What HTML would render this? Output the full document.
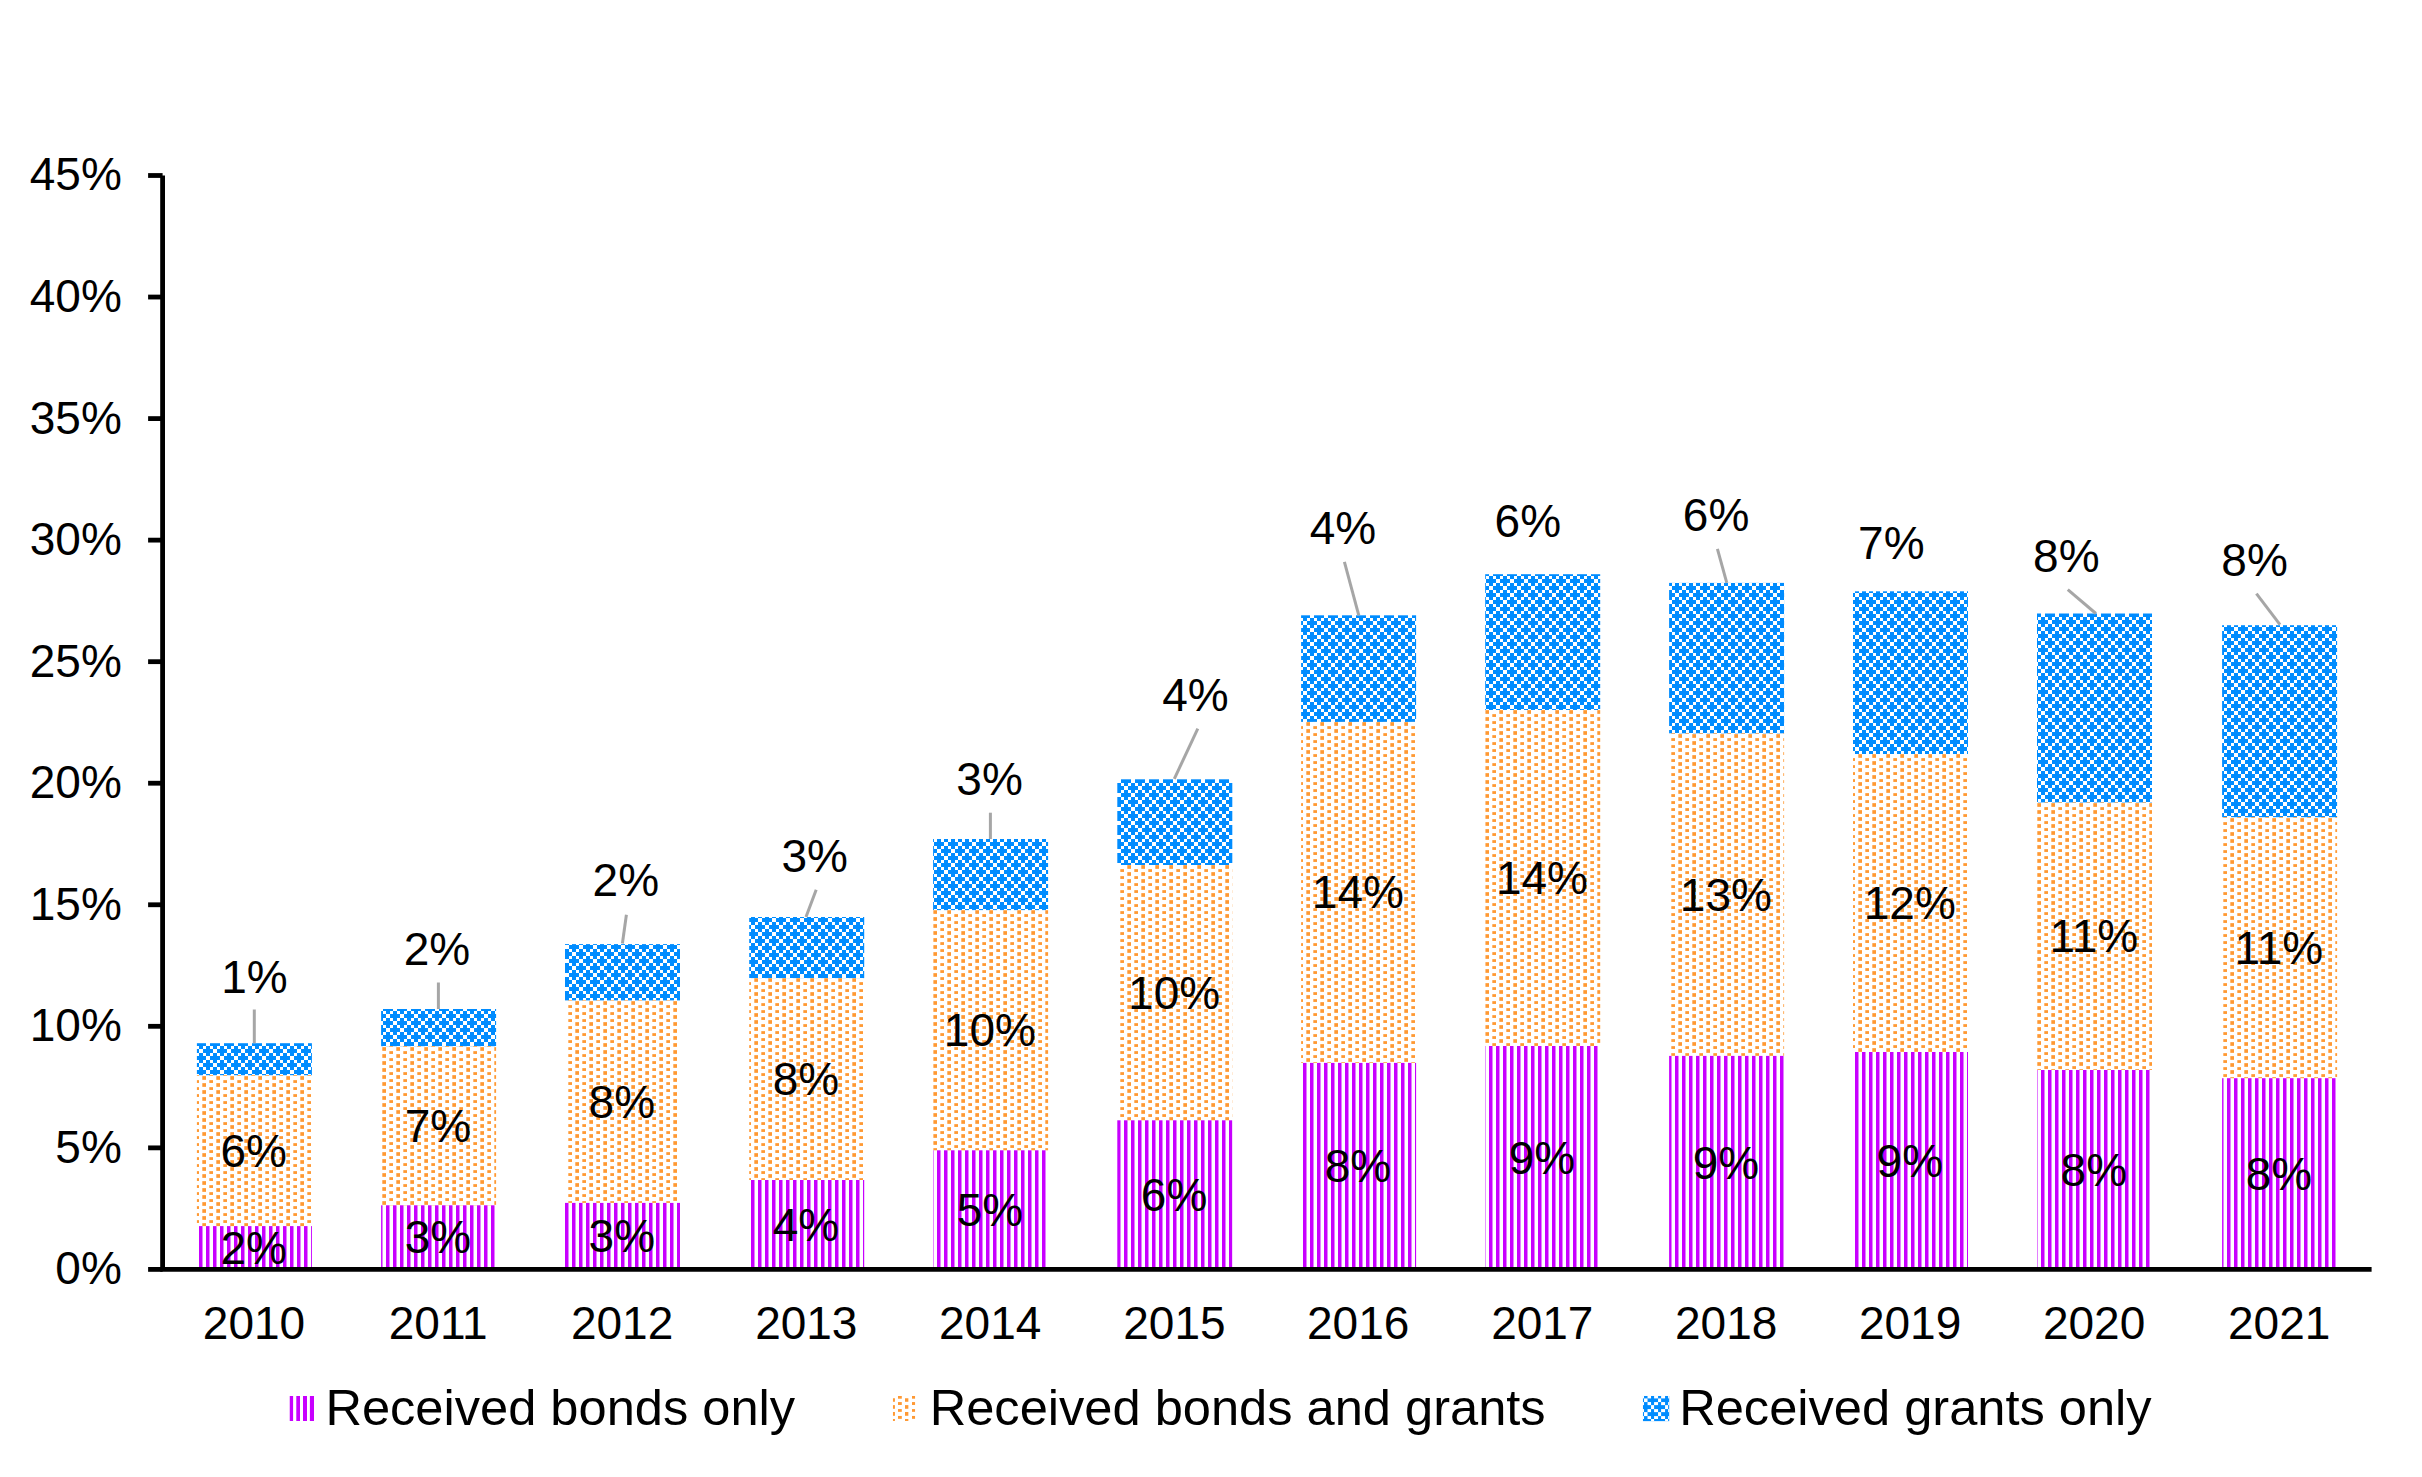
<!DOCTYPE html>
<html lang="en"><head><meta charset="utf-8"><title>Share receiving bonds and grants, 2010-2021</title>
<style>html,body{margin:0;padding:0;background:#fff}body{width:2422px;height:1477px;overflow:hidden}svg{display:block}text{font-family:"Liberation Sans",sans-serif;fill:#000}</style>
</head><body>
<svg width="2422" height="1477" viewBox="0 0 2422 1477">
<defs>
<pattern id="pp" patternUnits="userSpaceOnUse" x="0" y="0" width="14" height="14"><rect x="0" y="0" width="3.5" height="14" fill="#C800FF"/><rect x="7" y="0" width="3.5" height="14" fill="#C800FF"/></pattern>
<pattern id="po" patternUnits="userSpaceOnUse" x="0" y="0" width="14" height="14"><rect x="10.3" y="0.15" width="3.7" height="3.7" fill="#FF9933"/><rect x="10.3" y="7.15" width="3.7" height="3.7" fill="#FF9933"/><rect x="3.3" y="4.15" width="3.7" height="2.8" fill="#FF9933"/><rect x="3.3" y="11.15" width="3.7" height="2.8" fill="#FF9933"/></pattern>
<pattern id="pb" patternUnits="userSpaceOnUse" x="0" y="0" width="14" height="14"><rect x="0" y="0" width="14" height="14" fill="#008CFF"/><rect x="7" y="0" width="4" height="4" fill="#fff"/><rect x="4" y="4" width="3" height="3" fill="#fff"/><rect x="11" y="4" width="3" height="3" fill="#fff"/><rect x="0" y="7" width="4" height="4" fill="#fff"/><rect x="4" y="11" width="3" height="3" fill="#fff"/><rect x="11" y="11" width="3" height="3" fill="#fff"/></pattern>
<pattern id="pp0" href="#pp" x="10" y="0"/>
<pattern id="po0" href="#po" x="10" y="12"/>
<pattern id="pb0" href="#pb" x="10" y="13"/>
<pattern id="pp1" href="#pp" x="8" y="0"/>
<pattern id="po1" href="#po" x="8" y="11"/>
<pattern id="pb1" href="#pb" x="8" y="13"/>
<pattern id="pp2" href="#pp" x="5" y="0"/>
<pattern id="po2" href="#po" x="5" y="7"/>
<pattern id="pb2" href="#pb" x="5" y="0"/>
<pattern id="pp3" href="#pp" x="2" y="0"/>
<pattern id="po3" href="#po" x="2" y="12"/>
<pattern id="pb3" href="#pb" x="2" y="1"/>
<pattern id="pp4" href="#pp" x="13" y="0"/>
<pattern id="po4" href="#po" x="13" y="0"/>
<pattern id="pb4" href="#pb" x="13" y="2"/>
<pattern id="pp5" href="#pp" x="11" y="0"/>
<pattern id="po5" href="#po" x="11" y="11"/>
<pattern id="pb5" href="#pb" x="11" y="2"/>
<pattern id="pp6" href="#pp" x="8" y="0"/>
<pattern id="po6" href="#po" x="8" y="8"/>
<pattern id="pb6" href="#pb" x="8" y="5"/>
<pattern id="pp7" href="#pp" x="5" y="0"/>
<pattern id="po7" href="#po" x="5" y="10"/>
<pattern id="pb7" href="#pb" x="5" y="5"/>
<pattern id="pp8" href="#pp" x="2" y="0"/>
<pattern id="po8" href="#po" x="2" y="6"/>
<pattern id="pb8" href="#pb" x="2" y="5"/>
<pattern id="pp9" href="#pp" x="0" y="0"/>
<pattern id="po9" href="#po" x="0" y="12"/>
<pattern id="pb9" href="#pb" x="0" y="5"/>
<pattern id="pp10" href="#pp" x="11" y="0"/>
<pattern id="po10" href="#po" x="11" y="5"/>
<pattern id="pb10" href="#pb" x="11" y="4"/>
<pattern id="pp11" href="#pp" x="8" y="0"/>
<pattern id="po11" href="#po" x="8" y="6"/>
<pattern id="pb11" href="#pb" x="8" y="4"/>
</defs>
<rect width="2422" height="1477" fill="#fff"/>
<g id="bars">
<rect x="196.9" y="1043.2" width="115" height="32" fill="url(#pb0)"/>
<rect x="196.9" y="1075.2" width="115" height="150.9" fill="url(#po0)"/>
<rect x="196.9" y="1226.1" width="115" height="43.3" fill="url(#pp0)"/>
<rect x="381.1" y="1009" width="115" height="37.2" fill="url(#pb1)"/>
<rect x="381.1" y="1046.2" width="115" height="159.1" fill="url(#po1)"/>
<rect x="381.1" y="1205.3" width="115" height="64.1" fill="url(#pp1)"/>
<rect x="565" y="944.1" width="115" height="56.3" fill="url(#pb2)"/>
<rect x="565" y="1000.4" width="115" height="202.5" fill="url(#po2)"/>
<rect x="565" y="1202.9" width="115" height="66.5" fill="url(#pp2)"/>
<rect x="749.2" y="917" width="115" height="61.1" fill="url(#pb3)"/>
<rect x="749.2" y="978.1" width="115" height="201.9" fill="url(#po3)"/>
<rect x="749.2" y="1180" width="115" height="89.4" fill="url(#pp3)"/>
<rect x="933.1" y="839" width="115" height="71.1" fill="url(#pb4)"/>
<rect x="933.1" y="910.1" width="115" height="240.2" fill="url(#po4)"/>
<rect x="933.1" y="1150.3" width="115" height="119.1" fill="url(#pp4)"/>
<rect x="1117.3" y="779.3" width="115" height="85.7" fill="url(#pb5)"/>
<rect x="1117.3" y="865" width="115" height="255.3" fill="url(#po5)"/>
<rect x="1117.3" y="1120.3" width="115" height="149.1" fill="url(#pp5)"/>
<rect x="1301.1" y="615.3" width="115" height="106.6" fill="url(#pb6)"/>
<rect x="1301.1" y="721.9" width="115" height="341" fill="url(#po6)"/>
<rect x="1301.1" y="1062.9" width="115" height="206.5" fill="url(#pp6)"/>
<rect x="1485.2" y="574.2" width="115" height="135.8" fill="url(#pb7)"/>
<rect x="1485.2" y="710" width="115" height="336" fill="url(#po7)"/>
<rect x="1485.2" y="1046" width="115" height="223.4" fill="url(#pp7)"/>
<rect x="1669.1" y="582.9" width="115" height="150.4" fill="url(#pb8)"/>
<rect x="1669.1" y="733.3" width="115" height="322.6" fill="url(#po8)"/>
<rect x="1669.1" y="1055.9" width="115" height="213.5" fill="url(#pp8)"/>
<rect x="1853" y="591.3" width="115" height="162.7" fill="url(#pb9)"/>
<rect x="1853" y="754" width="115" height="298" fill="url(#po9)"/>
<rect x="1853" y="1052" width="115" height="217.4" fill="url(#pp9)"/>
<rect x="2037" y="613.5" width="115" height="188.9" fill="url(#pb10)"/>
<rect x="2037" y="802.4" width="115" height="267.6" fill="url(#po10)"/>
<rect x="2037" y="1070" width="115" height="199.4" fill="url(#pp10)"/>
<rect x="2222.1" y="625.2" width="115" height="192" fill="url(#pb11)"/>
<rect x="2222.1" y="817.2" width="115" height="261" fill="url(#po11)"/>
<rect x="2222.1" y="1078.2" width="115" height="191.2" fill="url(#pp11)"/>
</g>
<g id="leaders" stroke="#A6A6A6" stroke-width="3" fill="none">
<line x1="254.3" y1="1009.5" x2="254.3" y2="1043.2"/>
<line x1="438.4" y1="982.5" x2="438.4" y2="1009"/>
<line x1="626.4" y1="914.7" x2="622.4" y2="943.5"/>
<line x1="816.2" y1="889.8" x2="806" y2="917.1"/>
<line x1="990.4" y1="812.7" x2="990.4" y2="839"/>
<line x1="1197.8" y1="728.7" x2="1174.3" y2="778.8"/>
<line x1="1344.4" y1="561.8" x2="1358.8" y2="615.3"/>
<line x1="1717.4" y1="548.9" x2="1726.8" y2="582.9"/>
<line x1="2067.8" y1="589.7" x2="2095.9" y2="613.5"/>
<line x1="2256.4" y1="593.7" x2="2280" y2="624.7"/>
</g>
<g id="axes" stroke="#000" stroke-width="4.8" fill="none">
<line x1="162.6" y1="175.5" x2="162.6" y2="1269.4"/>
<line x1="160.2" y1="1269.4" x2="2371.6" y2="1269.4"/>
<line x1="148.1" y1="1269.4" x2="162.6" y2="1269.4"/>
<line x1="148.1" y1="1147.86" x2="162.6" y2="1147.86"/>
<line x1="148.1" y1="1026.31" x2="162.6" y2="1026.31"/>
<line x1="148.1" y1="904.77" x2="162.6" y2="904.77"/>
<line x1="148.1" y1="783.22" x2="162.6" y2="783.22"/>
<line x1="148.1" y1="661.68" x2="162.6" y2="661.68"/>
<line x1="148.1" y1="540.13" x2="162.6" y2="540.13"/>
<line x1="148.1" y1="418.59" x2="162.6" y2="418.59"/>
<line x1="148.1" y1="297.04" x2="162.6" y2="297.04"/>
<line x1="148.1" y1="175.5" x2="162.6" y2="175.5"/>
</g>
<g id="ylabels" font-size="46" text-anchor="end">
<text x="121.8" y="1284.37">0%</text>
<text x="121.8" y="1162.82">5%</text>
<text x="121.8" y="1041.28">10%</text>
<text x="121.8" y="919.73">15%</text>
<text x="121.8" y="798.19">20%</text>
<text x="121.8" y="676.65">25%</text>
<text x="121.8" y="555.1">30%</text>
<text x="121.8" y="433.56">35%</text>
<text x="121.8" y="312.01">40%</text>
<text x="121.8" y="190.47">45%</text>
</g>
<g id="xlabels" font-size="46" text-anchor="middle">
<text x="254" y="1339.3">2010</text>
<text x="438.2" y="1339.3">2011</text>
<text x="622.1" y="1339.3">2012</text>
<text x="806.3" y="1339.3">2013</text>
<text x="990.2" y="1339.3">2014</text>
<text x="1174.4" y="1339.3">2015</text>
<text x="1358.2" y="1339.3">2016</text>
<text x="1542.3" y="1339.3">2017</text>
<text x="1726.2" y="1339.3">2018</text>
<text x="1910.1" y="1339.3">2019</text>
<text x="2094.1" y="1339.3">2020</text>
<text x="2279.2" y="1339.3">2021</text>
</g>
<g id="datalabels" font-size="46" text-anchor="middle">
<text x="253.7" y="1263.72">2%</text>
<text x="253.7" y="1166.62">6%</text>
<text x="254.4" y="992.77">1%</text>
<text x="437.9" y="1253.32">3%</text>
<text x="437.9" y="1141.72">7%</text>
<text x="437" y="965.47">2%</text>
<text x="621.8" y="1252.12">3%</text>
<text x="621.8" y="1117.62">8%</text>
<text x="625.8" y="896.47">2%</text>
<text x="806" y="1240.67">4%</text>
<text x="806" y="1095.02">8%</text>
<text x="814.7" y="872.47">3%</text>
<text x="989.9" y="1225.82">5%</text>
<text x="989.9" y="1046.17">10%</text>
<text x="989.6" y="795.27">3%</text>
<text x="1174.1" y="1210.82">6%</text>
<text x="1174.1" y="1008.62">10%</text>
<text x="1195.4" y="711.07">4%</text>
<text x="1357.9" y="1182.12">8%</text>
<text x="1357.9" y="908.37">14%</text>
<text x="1342.9" y="544.27">4%</text>
<text x="1542" y="1173.67">9%</text>
<text x="1542" y="893.97">14%</text>
<text x="1527.8" y="536.57">6%</text>
<text x="1725.9" y="1178.62">9%</text>
<text x="1725.9" y="910.57">13%</text>
<text x="1716.1" y="530.87">6%</text>
<text x="1909.8" y="1176.67">9%</text>
<text x="1909.8" y="918.97">12%</text>
<text x="1891.3" y="558.67">7%</text>
<text x="2093.8" y="1185.67">8%</text>
<text x="2093.8" y="952.17">11%</text>
<text x="2066.3" y="571.87">8%</text>
<text x="2278.9" y="1189.77">8%</text>
<text x="2278.9" y="963.67">11%</text>
<text x="2254.6" y="576.37">8%</text>
</g>
<g id="legend" font-size="50.6">
<g id="lg-bonds" fill="#C800FF"><rect x="289.75" y="1396" width="3.35" height="25" fill="#C800FF"/><rect x="296.3" y="1396" width="3.7" height="25" fill="#C800FF"/><rect x="303" y="1396" width="4" height="25" fill="#C800FF"/><rect x="309.9" y="1396" width="4.1" height="25" fill="#C800FF"/></g>
<g id="lg-both"><rect x="892.96" y="1398.26" width="1.98" height="3.51" fill="#FF9933"/><rect x="892.96" y="1405.12" width="1.98" height="3.66" fill="#FF9933"/><rect x="892.96" y="1411.98" width="1.98" height="3.82" fill="#FF9933"/><rect x="892.96" y="1418.99" width="1.98" height="1.99" fill="#FF9933"/><rect x="905" y="1398.26" width="3.35" height="3.51" fill="#FF9933"/><rect x="905" y="1405.12" width="3.35" height="3.66" fill="#FF9933"/><rect x="905" y="1411.98" width="3.35" height="3.82" fill="#FF9933"/><rect x="905" y="1418.99" width="3.35" height="1.99" fill="#FF9933"/><rect x="897.99" y="1396" width="3.81" height="2.7" fill="#FF9933"/><rect x="897.99" y="1402.07" width="3.81" height="2.9" fill="#FF9933"/><rect x="897.99" y="1409.09" width="3.81" height="2.74" fill="#FF9933"/><rect x="897.99" y="1415.95" width="3.81" height="2.89" fill="#FF9933"/><rect x="912" y="1396" width="3.06" height="2.7" fill="#FF9933"/><rect x="912" y="1402.07" width="3.06" height="2.9" fill="#FF9933"/><rect x="912" y="1409.09" width="3.06" height="2.74" fill="#FF9933"/><rect x="912" y="1415.95" width="3.06" height="2.89" fill="#FF9933"/></g>
<g id="lg-grants"><rect x="1642.96" y="1395.98" width="26.24" height="25.15" fill="#008CFF"/><rect x="1642.96" y="1395.98" width="1.06" height="2.43" fill="#fff"/><rect x="1647.53" y="1395.98" width="3.51" height="2.43" fill="#fff"/><rect x="1654.09" y="1395.98" width="3.96" height="2.43" fill="#fff"/><rect x="1661.1" y="1395.98" width="3.96" height="2.43" fill="#fff"/><rect x="1668.1" y="1395.98" width="1.1" height="2.43" fill="#fff"/><rect x="1644.02" y="1398.41" width="3.51" height="3.66" fill="#fff"/><rect x="1658.05" y="1398.41" width="3.05" height="3.66" fill="#fff"/><rect x="1642.96" y="1402.07" width="1.06" height="3.05" fill="#fff"/><rect x="1647.53" y="1402.07" width="3.51" height="3.05" fill="#fff"/><rect x="1654.09" y="1402.07" width="3.96" height="3.05" fill="#fff"/><rect x="1661.1" y="1402.07" width="3.96" height="3.05" fill="#fff"/><rect x="1668.1" y="1402.07" width="1.1" height="3.05" fill="#fff"/><rect x="1651.04" y="1405.12" width="3.05" height="3.97" fill="#fff"/><rect x="1665.06" y="1405.12" width="3.04" height="3.97" fill="#fff"/><rect x="1642.96" y="1409.09" width="1.06" height="3.04" fill="#fff"/><rect x="1647.53" y="1409.09" width="3.51" height="3.04" fill="#fff"/><rect x="1654.09" y="1409.09" width="3.96" height="3.04" fill="#fff"/><rect x="1661.1" y="1409.09" width="3.96" height="3.04" fill="#fff"/><rect x="1668.1" y="1409.09" width="1.1" height="3.04" fill="#fff"/><rect x="1644.02" y="1412.13" width="3.51" height="3.97" fill="#fff"/><rect x="1658.05" y="1412.13" width="3.05" height="3.97" fill="#fff"/><rect x="1642.96" y="1416.1" width="1.06" height="2.9" fill="#fff"/><rect x="1647.53" y="1416.1" width="3.51" height="2.9" fill="#fff"/><rect x="1654.09" y="1416.1" width="3.96" height="2.9" fill="#fff"/><rect x="1661.1" y="1416.1" width="3.96" height="2.9" fill="#fff"/><rect x="1668.1" y="1416.1" width="1.1" height="2.9" fill="#fff"/><rect x="1651.04" y="1419" width="3.05" height="2.13" fill="#fff"/><rect x="1665.06" y="1419" width="3.04" height="2.13" fill="#fff"/></g>
<text x="325.4" y="1425">Received bonds only</text>
<text x="929.7" y="1425">Received bonds and grants</text>
<text x="1679.2" y="1425">Received grants only</text>
</g>
</svg>
</body></html>
